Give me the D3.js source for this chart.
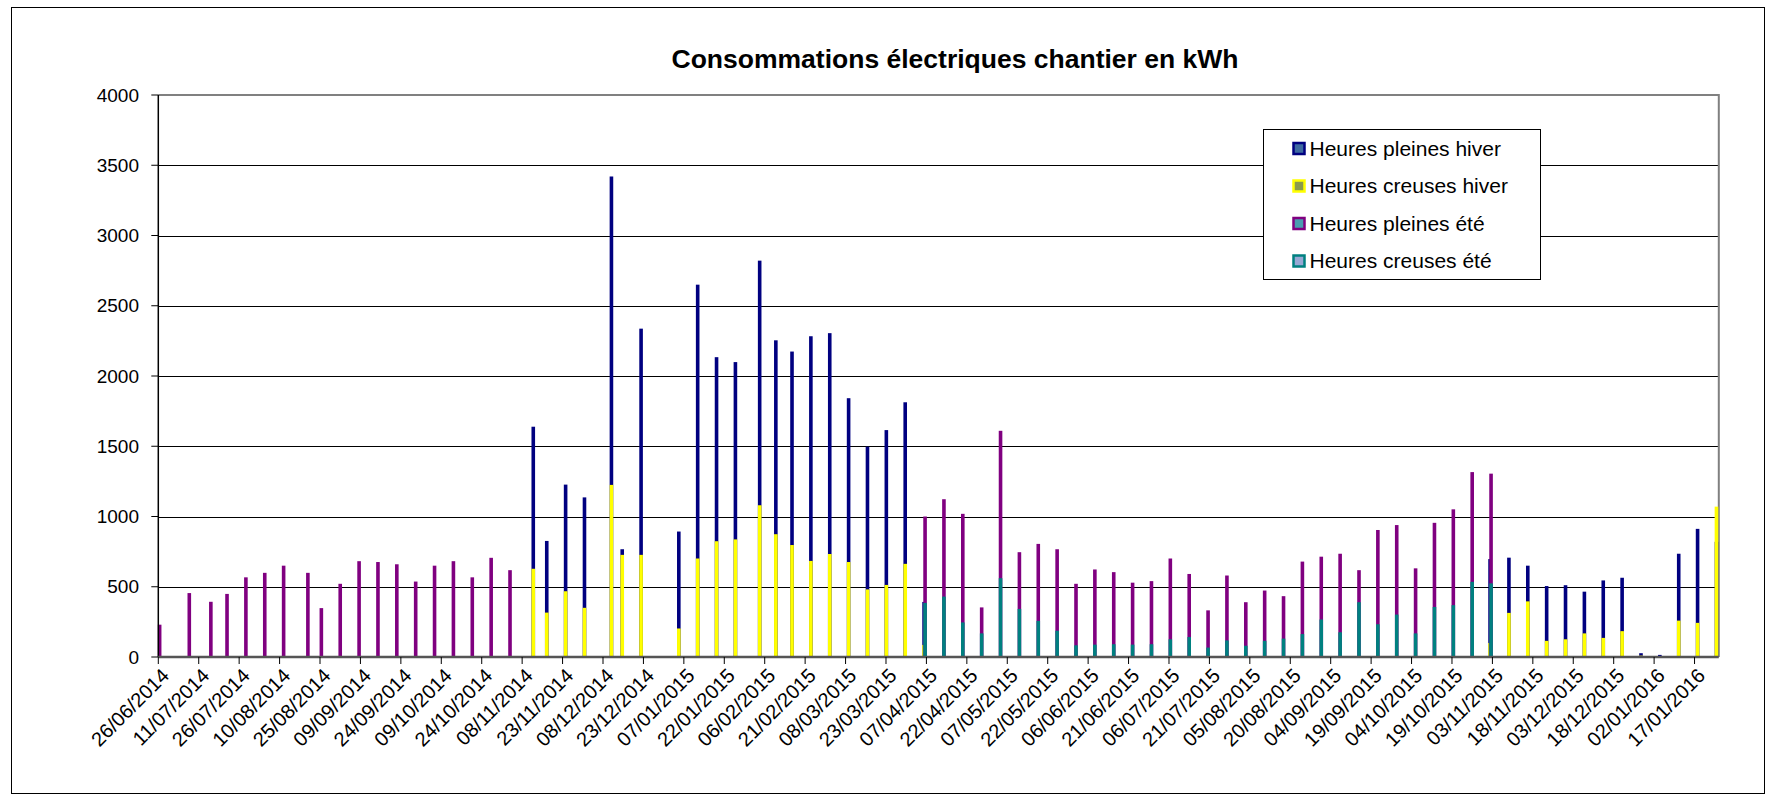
<!DOCTYPE html>
<html lang="fr">
<head>
<meta charset="UTF-8">
<title>Consommations électriques chantier</title>
<style>
body { margin: 0; background: #fff; }
text { font-family: "Liberation Sans", Arial, sans-serif; fill: #000; }
.grid line { stroke: #000; stroke-width: 1; shape-rendering: crispEdges; }
</style>
</head>
<body>
<svg width="1770" height="795"></svg>

<script src="https://d3js.org/d3.v7.min.js"></script>
<script>
// relevés hebdomadaires (date du relevé)
var dates = [
  "26/06/2014","07/07/2014","15/07/2014","21/07/2014","28/07/2014","04/08/2014","11/08/2014","20/08/2014",
  "25/08/2014","01/09/2014","08/09/2014","15/09/2014","22/09/2014","29/09/2014","06/10/2014","13/10/2014",
  "20/10/2014","27/10/2014","03/11/2014","12/11/2014","17/11/2014","24/11/2014","01/12/2014","11/12/2014",
  "15/12/2014","22/12/2014","05/01/2015","12/01/2015","19/01/2015","26/01/2015","04/02/2015","10/02/2015",
  "16/02/2015","23/02/2015","02/03/2015","09/03/2015","16/03/2015","23/03/2015","30/03/2015","06/04/2015",
  "13/04/2015","20/04/2015","27/04/2015","04/05/2015","11/05/2015","18/05/2015","25/05/2015","01/06/2015",
  "08/06/2015","15/06/2015","22/06/2015","29/06/2015","06/07/2015","13/07/2015","20/07/2015","27/07/2015",
  "03/08/2015","10/08/2015","17/08/2015","24/08/2015","31/08/2015","07/09/2015","14/09/2015","21/09/2015",
  "28/09/2015","05/10/2015","12/10/2015","19/10/2015","26/10/2015","02/11/2015","09/11/2015","16/11/2015",
  "23/11/2015","30/11/2015","07/12/2015","14/12/2015","21/12/2015","28/12/2015","04/01/2016","11/01/2016",
  "18/01/2016","25/01/2016"
];

var pleinesHiver = [
  0,0,0,0,0,0,0,0, 0,0,0,0,0,0,0,0, 0,0,0,1639,826,1227,1136,3420,
  767,2337,893,2650,2134,2099,2821,2254, 2174,2283,2305,1842,1497,1615,1813,392,
  0,0,0,0,0,0,0,0, 0,0,0,0,0,0,0,0, 0,0,0,0,0,0,0,0,
  0,0,0,0,0,697,707,650, 505,511,465,545,564,27,15,735, 912,820
];
var creusesHiver = [
  0,0,0,0,0,0,0,0, 0,0,0,0,0,0,0,0, 0,0,0,628,316,468,350,1225,
  727,727,203,701,824,837,1080,874, 797,684,733,676,481,513,663,86,
  0,0,0,0,0,0,0,0, 0,0,0,0,0,0,0,0, 0,0,0,0,0,0,0,0,
  0,0,0,0,0,100,314,396, 115,126,168,136,184,10,5,259, 243,1070
];
var pleinesEte = [
  230,455,393,449,567,599,650,599, 348,521,682,676,660,537,650,682, 567,706,618,0,0,0,0,0,
  0,0,0,0,0,0,0,0, 0,0,0,0,0,0,0,1000,
  1123,1019,353,1610,746,805,767,521, 623,604,529,540,701,591,332,580, 390,473,433,679,714,735,618,904,
  939,631,955,1051,1316,1305,0,0, 0,0,0,0,0,0,0,0, 0,0
];
var creusesEte = [
  0,0,0,0,0,0,0,0, 0,0,0,0,0,0,0,0, 0,0,0,0,0,0,0,0,
  0,0,0,0,0,0,0,0, 0,0,0,0,0,0,0,385,
  430,246,168,561,342,257,187,83, 88,91,88,91,126,142,67,118, 80,115,131,163,267,176,390,233,
  302,168,356,369,535,524,0,0, 0,0,0,0,0,0,0,0, 0,0
];

var yTicks = [0, 500, 1000, 1500, 2000, 2500, 3000, 3500, 4000];

var series = [
  {name: "Heures pleines hiver", values: pleinesHiver, color: "#000080", fill: "#3e6aa0", dx: -1},
  {name: "Heures creuses hiver", values: creusesHiver, color: "#ffff00", fill: "#8a9a4c", dx: -1},
  {name: "Heures pleines été", values: pleinesEte, color: "#800080", fill: "#4a9cb0", dx: 0},
  {name: "Heures creuses été", values: creusesEte, color: "#008080", fill: "#98a8d4", dx: 0}
];

var parse = d3.timeParse("%d/%m/%Y");
var fmt = d3.timeFormat("%d/%m/%Y");
var days = dates.map(parse);

var svg = d3.select("svg");
var plot = {left: 158.3, right: 1718.8, top: 95, bottom: 657};

// cadre du graphique
svg.append("rect")
  .attr("x", 11.5).attr("y", 7.5)
  .attr("width", 1753).attr("height", 786)
  .attr("fill", "#fff")
  .attr("stroke", "#000").attr("stroke-width", 1);

// axe des dates : un jour = une case
var x = d3.scaleTime()
  .domain([days[0], d3.timeDay.offset(days[days.length - 1], 1)])
  .range([plot.left, plot.right]);

var y = d3.scaleLinear()
  .domain([0, 4000])
  .range([plot.bottom, plot.top]);

var xTicks = d3.timeDay.range(days[0], d3.timeDay.offset(days[0], 571), 15);

// quadrillage
svg.append("g")
  .attr("class", "grid")
  .selectAll("line")
  .data(yTicks.filter(function(v) { return v > 0 && v < 4000; }))
  .enter().append("line")
    .attr("x1", plot.left).attr("x2", plot.right)
    .attr("y1", function(d) { return Math.round(y(d)) + 0.5; })
    .attr("y2", function(d) { return Math.round(y(d)) + 0.5; });

// bordure de la zone de tracé
svg.append("path")
  .attr("d", "M" + plot.left + "," + plot.top + "H" + plot.right + "V" + plot.bottom)
  .attr("fill", "none")
  .attr("stroke", "#808080")
  .attr("stroke-width", 2);

// barres (les séries se superposent, la suivante devant)
var bw = 3.6;
series.forEach(function(s) {
  svg.append("g")
    .selectAll("rect")
    .data(s.values.map(function(v, i) { return {date: days[i], value: v}; })
      .filter(function(d) { return d.value > 0; }))
    .enter().append("rect")
      .attr("x", function(d) { return x(d3.timeHour.offset(d.date, 12)) - bw / 2 + s.dx; })
      .attr("width", bw)
      .attr("y", function(d) { return y(d.value); })
      .attr("height", function(d) { return y(0) - y(d.value); })
      .attr("fill", s.color);
});

// axe Y
var yAxis = svg.append("g");
yAxis.append("line")
  .attr("x1", plot.left).attr("x2", plot.left)
  .attr("y1", plot.top).attr("y2", plot.bottom)
  .attr("stroke", "#000").attr("stroke-width", 1.5);
yAxis.selectAll("line.tk")
  .data(yTicks)
  .enter().append("line")
    .attr("class", "tk")
    .attr("x1", plot.left - 7).attr("x2", plot.left)
    .attr("y1", function(d) { return y(d); })
    .attr("y2", function(d) { return y(d); })
    .attr("stroke", "#000");
yAxis.selectAll("text")
  .data(yTicks)
  .enter().append("text")
    .attr("x", 139)
    .attr("y", function(d) { return y(d); })
    .attr("dy", "0.35em")
    .attr("text-anchor", "end")
    .style("font-size", "19px")
    .text(function(d) { return d; });

// axe X
var xAxis = svg.append("g");
xAxis.append("line")
  .attr("x1", plot.left).attr("x2", plot.right)
  .attr("y1", plot.bottom).attr("y2", plot.bottom)
  .attr("stroke", "#555").attr("stroke-width", 2.5);
xAxis.selectAll("line.tk")
  .data(xTicks)
  .enter().append("line")
    .attr("class", "tk")
    .attr("x1", function(d) { return x(d); })
    .attr("x2", function(d) { return x(d); })
    .attr("y1", plot.bottom).attr("y2", plot.bottom + 7)
    .attr("stroke", "#000");
xAxis.selectAll("text")
  .data(xTicks)
  .enter().append("text")
    .attr("transform", function(d) {
      return "translate(" + (x(d) + 7) + "," + (plot.bottom + 15) + ") rotate(-45)";
    })
    .attr("dy", "0.35em")
    .attr("text-anchor", "end")
    .style("font-size", "20px")
    .text(function(d) { return fmt(d); });

// titre
svg.append("text")
  .attr("x", 955).attr("y", 59)
  .attr("dy", "0.35em")
  .attr("text-anchor", "middle")
  .style("font-size", "26.5px")
  .style("font-weight", "bold")
  .text("Consommations électriques chantier en kWh");

// légende
var legend = svg.append("g").attr("transform", "translate(1263.5,129.5)");
legend.append("rect")
  .attr("width", 277).attr("height", 150)
  .attr("fill", "#fff")
  .attr("stroke", "#000").attr("stroke-width", 1);
var item = legend.selectAll("g")
  .data(series)
  .enter().append("g")
    .attr("transform", function(d, i) { return "translate(0," + (19 + i * 37.5) + ")"; });
item.append("rect")
  .attr("x", 30).attr("y", -5.5)
  .attr("width", 11).attr("height", 11)
  .attr("fill", function(d) { return d.fill; })
  .attr("stroke", function(d) { return d.color; })
  .attr("stroke-width", 2.5);
item.append("text")
  .attr("x", 46)
  .attr("dy", "0.35em")
  .style("font-size", "21px")
  .text(function(d) { return d.name; });
</script>
</body>
</html>
